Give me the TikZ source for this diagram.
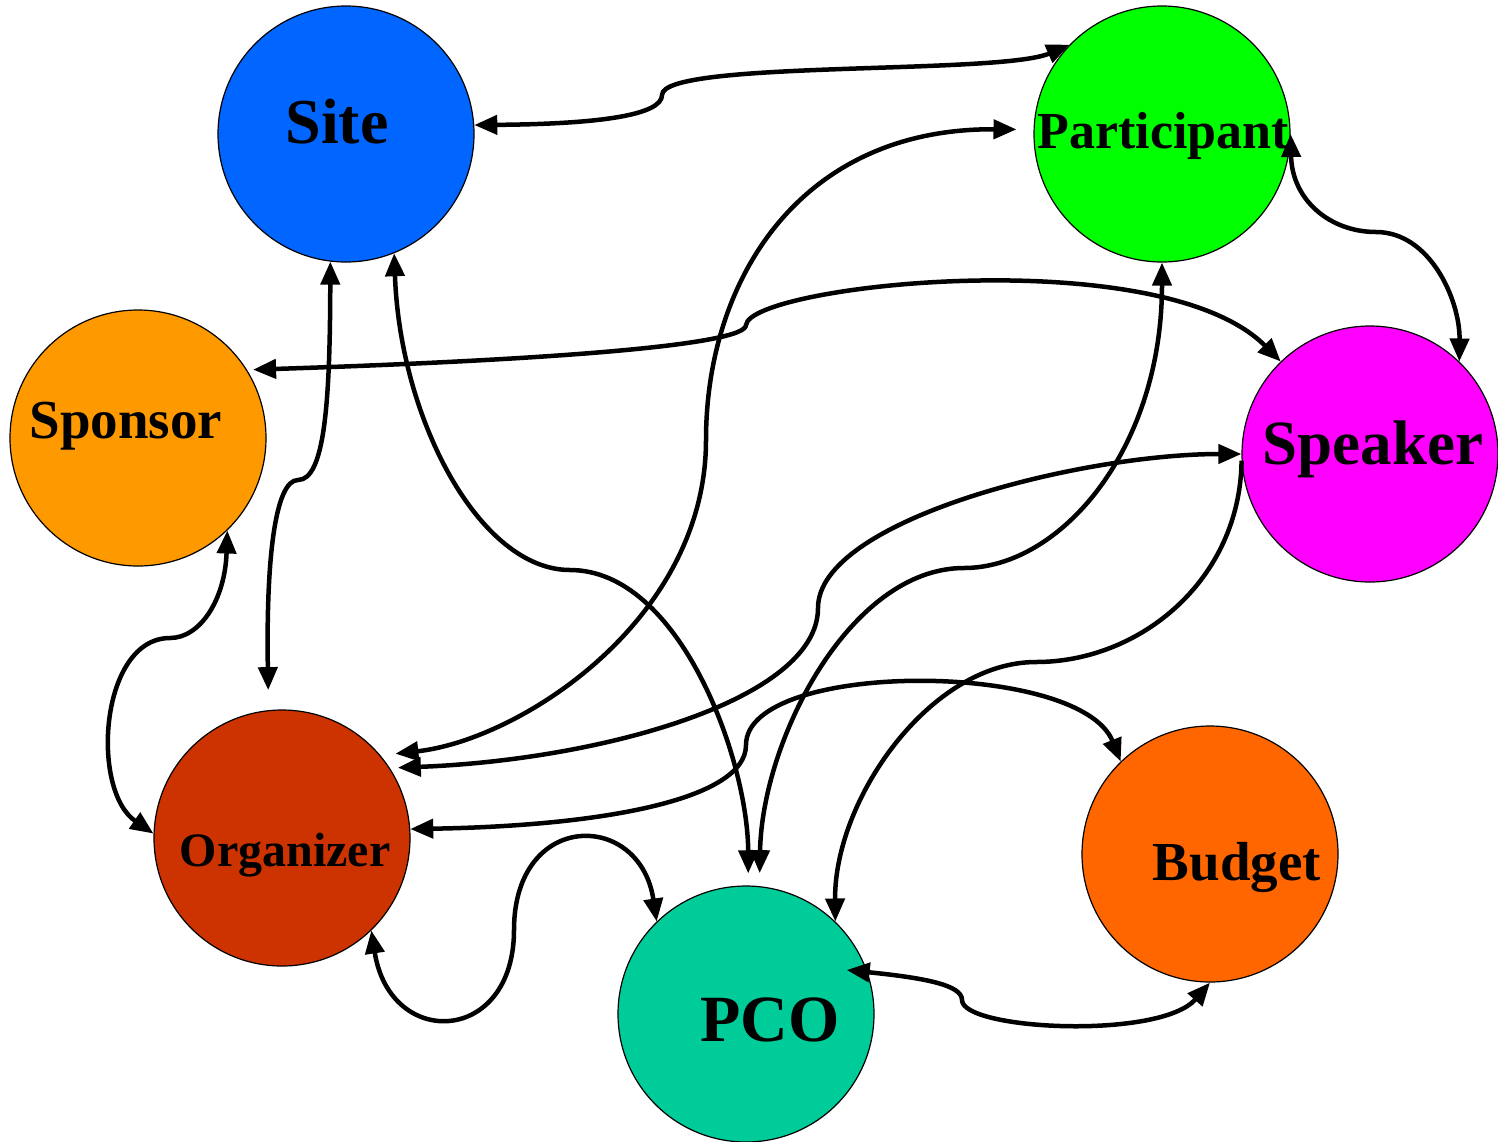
\documentclass[tikz,border=0pt]{standalone}
\usepackage{fontspec}
\setmainfont{Liberation Serif}
\usetikzlibrary{arrows.meta}
\definecolor{siteblue}{HTML}{0066FF}
\definecolor{partgreen}{HTML}{00FF00}
\definecolor{sponorange}{HTML}{FF9900}
\definecolor{spkrmagenta}{HTML}{FF00FF}
\definecolor{orgred}{HTML}{CC3300}
\definecolor{budorange}{HTML}{FF6600}
\definecolor{pcoteal}{HTML}{00CC99}

\begin{document}
\begin{tikzpicture}[
  x=1pt, y=-1pt,
  ball/.style={circle, draw=black, line width=1.2pt, minimum size=256pt,
               inner sep=0pt, fill=#1},
  lbl/.style={anchor=base, inner sep=0pt,
              font=\bfseries\fontsize{#1}{#1}\selectfont},
  >={Triangle[length=23pt,width=19pt]},
  link/.style={<->, line width=4.5pt},
  half/.style={->, line width=4.5pt}
]
\useasboundingbox (0,0) rectangle (1498,1141);
% Circles
\node[ball=siteblue]    (site) at (346,134)  {};
\node[ball=partgreen]   (part) at (1162,134) {};
\node[ball=sponorange]  (spon) at (138,438)  {};
\node[ball=spkrmagenta] (spkr) at (1370,454) {};
\node[ball=orgred]      (org)  at (282,838)  {};
\node[ball=budorange]   (bud)  at (1210,854) {};
\node[ball=pcoteal]     (pco)  at (746,1014) {};
% Labels
\node[lbl=64] (site-t) at (337,143)  {Site};
\node[lbl=52] (part-t) at (1163,148) {Participant};
\node[lbl=55] (spon-t) at (126,438)  {Sponsor};
\node[lbl=63] (spkr-t) at (1373,464) {Speaker};
\node[lbl=48] (org-t)  at (285,866)  {Organizer};
\node[lbl=55] (bud-t)  at (1237,880) {Budget};
\node[lbl=66] (pco-t)  at (770,1041) {PCO};

% Connectors
\draw[link] (site.4) .. controls (600,124) and (662,115) .. (662,95)
  .. controls (662,60) and (1000,75) .. (part.136);
\draw[link, shorten <=17pt, shorten >=15pt] (part.178) .. controls (800,128) and (706,280) .. (706,440)
  .. controls (706,620) and (520,740) .. (org.40);
\draw[link] (part.0) .. controls (1292,200) and (1330,232) .. (1376,232)
  .. controls (1430,232) and (1460,300) .. (spkr.46);
\draw[link, shorten <=6pt] (spon.32) .. controls (550,360) and (746,345) .. (746,325)
  .. controls (750,285) and (1160,240) .. (spkr.134);
\draw[link, shorten >=20pt] (site.263) .. controls (330,400) and (325,480) .. (298,480)
  .. controls (275,480) and (266,560) .. (org.96);
\draw[link, shorten >=12pt] (site.292) .. controls (400,420) and (480,570) .. (570,570)
  .. controls (680,570) and (748,760) .. (pco.89);
\draw[link] (spon.314) .. controls (225,600) and (200,638) .. (170,638)
  .. controls (100,638) and (90,790) .. (org.178);
\draw[link, shorten >=8pt] (spkr.180) .. controls (1080,454) and (818,520) .. (818,608)
  .. controls (818,700) and (600,760) .. (org.33);
\draw[link, shorten >=13pt] (part.270) .. controls (1162,450) and (1060,568) .. (964,568)
  .. controls (850,568) and (762,740) .. (pco.84);
\draw[half] (spkr.183) .. controls (1240,580) and (1140,662) .. (1036,662)
  .. controls (930,662) and (834,800) .. (pco.46);
\draw[link] (org.4) .. controls (600,826) and (746,800) .. (746,745)
  .. controls (746,660) and (1080,660) .. (bud.134);
\draw[link] (org.314) .. controls (390,1050) and (514,1045) .. (514,930)
  .. controls (514,810) and (640,810) .. (pco.134);
\draw[link, shorten <=-21pt] (pco.19) .. controls (925,978) and (962,985) .. (962,1000)
  .. controls (962,1030) and (1160,1040) .. (bud.270);
\end{tikzpicture}
\end{document}
